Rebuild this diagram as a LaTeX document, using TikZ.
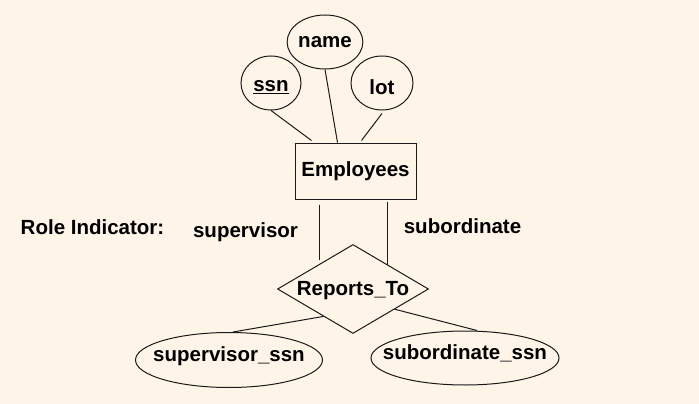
\documentclass[tikz,border=0pt]{standalone}
\usepackage{fontspec}
\setmainfont{Liberation Sans}
\usetikzlibrary{shapes.geometric,calc}
\definecolor{bgcream}{HTML}{FEF4E8}
\definecolor{inkline}{HTML}{1A1A1A}
\begin{document}
\begin{tikzpicture}[x=1pt,y=-1pt,
  every node/.style={font=\fontsize{20.5}{24}\selectfont\bfseries, text=black},
  attr/.style={ellipse, draw=inkline, line width=1pt, inner sep=0pt},
  entitybox/.style={rectangle, draw=inkline, line width=1pt, inner sep=0pt, minimum width=121pt, minimum height=56pt},
  relbox/.style={diamond, draw=inkline, line width=1pt, inner sep=0pt, minimum width=151pt, minimum height=89pt},
  conn/.style={draw=inkline, line width=1pt},
  plainlabel/.style={inner sep=0pt}]
\fill[bgcream] (0,0) rectangle (699,404);
\useasboundingbox (0,0) rectangle (699,404);

% attributes
\node[attr, minimum width=60pt, minimum height=54pt, label={[yshift=-4pt]center:\underline{ssn}}] (ssn) at (271,83) {};
\node[attr, minimum width=62pt, minimum height=54pt] (name) at (325,42) {name};
\node[attr, minimum width=62pt, minimum height=54pt, label={[yshift=-4pt]center:lot}] (lot) at (382,83) {};

% entity
\node[entitybox] (emp) at (355.5,171) {Employees};

% relationship
\node[relbox, label={[yshift=-2pt]center:Reports\_To}] (rt) at (353,289) {};

% bottom attributes
\node[attr, minimum width=187pt, minimum height=55pt, label={[yshift=4pt]center:supervisor\_ssn}] (sup) at (229,360) {};
\node[attr, minimum width=188pt, minimum height=54pt, label={[yshift=5pt]center:subordinate\_ssn}] (sub) at (465,358) {};

% labels
\node[plainlabel] (role) at (92.5,227) {Role Indicator:};
\node[plainlabel] (suplab) at (245.5,232) {supervisor};
\node[plainlabel] (sublab) at (462.5,226) {subordinate};

% connectors
\draw[conn] (ssn.south) -- ([xshift=17pt,yshift=2pt]emp.north west);
\draw[conn] (name.south) -- ([xshift=43pt]emp.north west);
\draw[conn] ([yshift=-3pt]lot.south) -- ([xshift=67pt,yshift=2pt]emp.north west);

\draw[conn] ([xshift=24.5pt,yshift=-5pt]emp.south west) -- ++(0,55);
\draw[conn] ([xshift=92.5pt,yshift=-2pt]emp.south west) -- ++(0,63);

\draw[conn] ($(rt.west)!0.61!(rt.south)$) -- ([xshift=4pt]sup.north);
\draw[conn] ($(rt.east)!0.45!(rt.south)$) -- ([xshift=12pt]sub.north);
\end{tikzpicture}
\end{document}
